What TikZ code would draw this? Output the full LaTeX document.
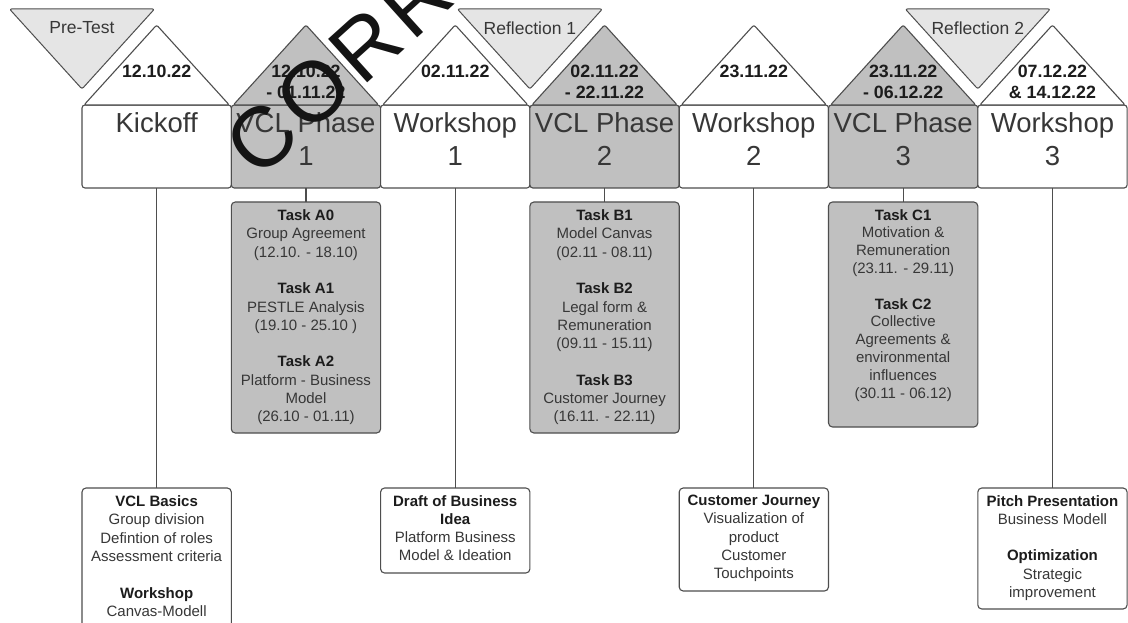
\documentclass[tikz,border=0pt]{standalone}
\usepackage{fontspec}
\setmainfont{Liberation Sans}
\definecolor{vclgray}{RGB}{192,192,192}
\definecolor{trigray}{RGB}{229,229,229}
\definecolor{edge}{RGB}{78,78,78}
\definecolor{txt}{RGB}{55,55,55}
\definecolor{txtb}{RGB}{28,28,28}
\newcommand{\bhead}[1]{\textbf{\color{txtb}#1}}
\begin{document}
\begin{tikzpicture}[x=1pt,y=-1pt,
  body/.style={draw=edge, line width=1.1pt, rounded corners=3pt, minimum width=149.3pt, minimum height=83pt, inner sep=0pt, outer sep=0pt},
  roof/.style={draw=edge, line width=1.1pt, rounded corners=2pt, line join=round},
  flag/.style={draw=edge, line width=1pt, fill=trigray, rounded corners=2pt, line join=round},
  flagtext/.style={font=\fontsize{17.5}{20}\selectfont, text=txt, inner sep=0pt},
  datetext/.style={font=\bfseries\fontsize{17.8}{21}\selectfont, text=txtb, align=center, anchor=north, inner sep=0pt},
  titletext/.style={font=\fontsize{27.5}{33}\selectfont, text=txt, align=center, anchor=north, inner sep=0pt},
  taskbox/.style={draw=edge, line width=1.1pt, rounded corners=4pt, minimum width=149.3pt, anchor=north, inner sep=0pt, outer sep=0pt},
  boxtext/.style={font=\fontsize{15}{18.3}\selectfont, text=txt, align=center, anchor=north, inner sep=0pt},
  conn/.style={draw=edge, line width=1.1pt},
  watermark/.style={rotate=42, font=\fontsize{85}{85}\selectfont, text=black!92, inner sep=0pt},
]
\useasboundingbox (0,0) rectangle (1128,623);
\clip (0,0) rectangle (1128,623);
\fill[white] (0,0) rectangle (1128,623);

% house bodies
\node[body, fill=white]   (kick) at (156.65,146.5) {};
\node[body, fill=vclgray] (vcl1) at (305.95,146.5) {};
\node[body, fill=white]   (ws1)  at (455.25,146.5) {};
\node[body, fill=vclgray] (vcl2) at (604.55,146.5) {};
\node[body, fill=white]   (ws2)  at (753.85,146.5) {};
\node[body, fill=vclgray] (vcl3) at (903.15,146.5) {};
\node[body, fill=white]   (ws3)  at (1052.45,146.5) {};

% roofs
\draw[roof, fill=white]   ([xshift=2pt]kick.north west) -- ([yshift=80pt]kick.north) -- ([xshift=-2pt]kick.north east) -- cycle;
\draw[roof, fill=vclgray] ([xshift=2pt]vcl1.north west) -- ([yshift=80pt]vcl1.north) -- ([xshift=-2pt]vcl1.north east) -- cycle;
\draw[roof, fill=white]   ([xshift=2pt]ws1.north west) -- ([yshift=80pt]ws1.north) -- ([xshift=-2pt]ws1.north east) -- cycle;
\draw[roof, fill=vclgray] ([xshift=2pt]vcl2.north west) -- ([yshift=80pt]vcl2.north) -- ([xshift=-2pt]vcl2.north east) -- cycle;
\draw[roof, fill=white]   ([xshift=2pt]ws2.north west) -- ([yshift=80pt]ws2.north) -- ([xshift=-2pt]ws2.north east) -- cycle;
\draw[roof, fill=vclgray] ([xshift=2pt]vcl3.north west) -- ([yshift=80pt]vcl3.north) -- ([xshift=-2pt]vcl3.north east) -- cycle;
\draw[roof, fill=white]   ([xshift=2pt]ws3.north west) -- ([yshift=80pt]ws3.north) -- ([xshift=-2pt]ws3.north east) -- cycle;

% flags (inverted triangles)
\draw[flag] ([yshift=16pt]kick.north west) -- ++(-72.5,-80) -- ++(145,0) -- cycle;
\draw[flag] ([yshift=16pt]ws1.north east) -- ++(-72.5,-80) -- ++(145,0) -- cycle;
\draw[flag] ([yshift=16pt]vcl3.north east) -- ++(-72.5,-80) -- ++(145,0) -- cycle;
\node[flagtext] (pre)  at ([yshift=77pt]kick.north west) {Pre-Test};
\node[flagtext] (ref1) at ([yshift=77pt]ws1.north east) {Reflection 1};
\node[flagtext] (ref2) at ([yshift=77pt]vcl3.north east) {Reflection 2};

% dates
\node[datetext] (kickD) at ([yshift=40pt]kick.north) {12.10.22};
\node[datetext] (vcl1D) at ([yshift=40pt]vcl1.north) {12.10.22\\- 01.11.22};
\node[datetext] (ws1D)  at ([yshift=40pt]ws1.north)  {02.11.22};
\node[datetext] (vcl2D) at ([yshift=40pt]vcl2.north) {02.11.22\\- 22.11.22};
\node[datetext] (ws2D)  at ([yshift=40pt]ws2.north)  {23.11.22};
\node[datetext] (vcl3D) at ([yshift=40pt]vcl3.north) {23.11.22\\- 06.12.22};
\node[datetext] (ws3D)  at ([yshift=40pt]ws3.north)  {07.12.22\\\& 14.12.22};

% titles
\node[titletext] (kickT) at ([yshift=-7pt]kick.north) {Kickoff};
\node[titletext] (vcl1T) at ([yshift=-7pt]vcl1.north) {VCL Phase\\1};
\node[titletext] (ws1T)  at ([yshift=-7pt]ws1.north)  {Workshop\\1};
\node[titletext] (vcl2T) at ([yshift=-7pt]vcl2.north) {VCL Phase\\2};
\node[titletext] (ws2T)  at ([yshift=-7pt]ws2.north)  {Workshop\\2};
\node[titletext] (vcl3T) at ([yshift=-7pt]vcl3.north) {VCL Phase\\3};
\node[titletext] (ws3T)  at ([yshift=-7pt]ws3.north)  {Workshop\\3};

% task boxes
\node[taskbox, fill=vclgray, minimum height=231pt] (tA) at (305.95,202) {};
\node[taskbox, fill=vclgray, minimum height=231pt] (tB) at (604.55,202) {};
\node[taskbox, fill=vclgray, minimum height=225pt] (tC) at (903.15,202) {};

\node[boxtext] (tAt) at ([yshift=-7.5pt]tA.north) {\bhead{Task A0}\\Group Agreement\\(12.10. - 18.10)\\[18.3pt]\bhead{Task A1}\\PESTLE Analysis\\(19.10 - 25.10 )\\[18.3pt]\bhead{Task A2}\\Platform - Business\\Model\\(26.10 - 01.11)};
\node[boxtext] (tBt) at ([yshift=-7.5pt]tB.north) {\bhead{Task B1}\\Model Canvas\\(02.11 - 08.11)\\[18.3pt]\bhead{Task B2}\\Legal form \&\\Remuneration\\(09.11 - 15.11)\\[18.3pt]\bhead{Task B3}\\Customer Journey\\(16.11. - 22.11)};
\node[boxtext, font=\fontsize{15}{17.8}\selectfont] (tCt) at ([yshift=-7pt]tC.north) {\bhead{Task C1}\\Motivation \&\\Remuneration\\(23.11. - 29.11)\\[17.8pt]\bhead{Task C2}\\Collective\\Agreements \&\\environmental\\influences\\(30.11 - 06.12)};

% result boxes
\node[taskbox, fill=white, minimum height=200pt] (basics) at (156.65,488) {};
\node[taskbox, fill=white, minimum height=85pt]  (draft)  at (455.25,488) {};
\node[taskbox, fill=white, minimum height=103pt] (cj)     at (753.85,488) {};
\node[taskbox, fill=white, minimum height=121pt] (pitch)  at (1052.45,488) {};

\node[boxtext] (basicsT) at ([yshift=-7.5pt]basics.north) {\bhead{VCL Basics}\\Group division\\Defintion of roles\\Assessment criteria\\[18.3pt]\bhead{Workshop}\\Canvas-Modell};
\node[boxtext] (draftT) at ([yshift=-7pt]draft.north) {\bhead{Draft of Business}\\\bhead{Idea}\\Platform Business\\Model \& Ideation};
\node[boxtext] (cjT) at ([yshift=-7pt]cj.north) {\bhead{Customer Journey}\\Visualization of\\product\\Customer\\Touchpoints};
\node[boxtext] (pitchT) at ([yshift=-7pt]pitch.north) {\bhead{Pitch Presentation}\\Business Modell\\[18.3pt]\bhead{Optimization}\\Strategic\\improvement};

% connectors
\draw[conn] (kick.south) -- (basics.north);
\draw[conn] (vcl1.south) -- (tA.north);
\draw[conn] (ws1.south) -- (draft.north);
\draw[conn] (vcl2.south) -- (tB.north);
\draw[conn] (ws2.south) -- (cj.north);
\draw[conn] (vcl3.south) -- (tC.north);
\draw[conn] (ws3.south) -- (pitch.north);

% watermark
\node[watermark] (wm) at (339,69.5) {C\kern6pt O\kern6pt R\kern6pt R};
\end{tikzpicture}
\end{document}
